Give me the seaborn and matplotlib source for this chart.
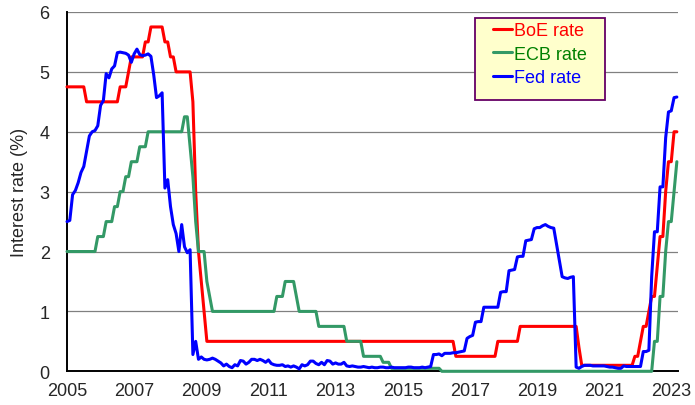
import numpy as np
import pandas as pd
import matplotlib
matplotlib.use("Agg")
import matplotlib.pyplot as plt
from matplotlib.lines import Line2D
from matplotlib.patches import Rectangle
import seaborn as sns

# Monthly values, Jan 2005 - Mar 2023
start_month = "2005-01"
n_months = 219

# BoE and ECB are step series: (level, number of months at that level)
boe_levels = [4.75, 4.5, 4.75, 5.0, 5.25, 5.5, 5.75, 5.5, 5.25, 5.0, 4.5, 3.0, 2.0, 1.5,
              1.0, 0.5, 0.25, 0.5, 0.75, 0.4, 0.1, 0.25, 0.5, 0.75, 1.0, 1.25, 1.75,
              2.25, 3.0, 3.5, 4.0]
boe_runs = [7, 12, 3, 1, 5, 2, 5, 2, 2, 6, 1, 1, 1, 1,
            1, 89, 15, 8, 21, 1, 19, 2, 1, 2, 1, 2, 1,
            2, 1, 2, 2]

ecb_levels = [2.0, 2.25, 2.5, 2.75, 3.0, 3.25, 3.5, 3.75, 4.0, 4.25, 3.75, 3.25, 2.5,
              2.0, 1.5, 1.25, 1.0, 1.25, 1.5, 1.25, 1.0, 0.75, 0.5, 0.25, 0.15, 0.05,
              0.0, 0.5, 1.25, 2.0, 2.5, 3.0, 3.5]
ecb_runs = [11, 3, 3, 2, 2, 2, 3, 3, 13, 2, 1, 1, 1,
            3, 1, 1, 23, 3, 4, 1, 7, 10, 6, 7, 3, 18,
            76, 2, 2, 1, 2, 1, 1]

fed_rate = [
    2.50, 2.52, 2.95, 3.02, 3.15, 3.32, 3.42, 3.68, 3.93, 4.00, 4.02, 4.10,  # 2005
    4.44, 4.52, 4.97, 4.90, 5.05, 5.10, 5.32, 5.33, 5.32, 5.31, 5.28, 5.16,  # 2006
    5.30, 5.38, 5.29, 5.27, 5.28, 5.30, 5.26, 4.95, 4.57, 4.60, 4.65, 3.06,  # 2007
    3.20, 2.75, 2.45, 2.30, 2.00, 2.45, 2.08, 1.98, 2.03, 0.28, 0.50, 0.20,  # 2008
    0.24, 0.20, 0.19, 0.20, 0.22, 0.20, 0.17, 0.14, 0.09, 0.12, 0.08, 0.06,  # 2009
    0.11, 0.09, 0.18, 0.17, 0.12, 0.15, 0.20, 0.20, 0.18, 0.20, 0.18, 0.15,  # 2010
    0.19, 0.13, 0.11, 0.10, 0.10, 0.11, 0.08, 0.09, 0.07, 0.09, 0.07, 0.04,  # 2011
    0.11, 0.09, 0.11, 0.17, 0.17, 0.13, 0.11, 0.15, 0.11, 0.18, 0.17, 0.12,  # 2012
    0.14, 0.12, 0.12, 0.15, 0.09, 0.08, 0.09, 0.08, 0.07, 0.07, 0.08, 0.07,  # 2013
    0.06, 0.07, 0.06, 0.06, 0.07, 0.07, 0.06, 0.06, 0.07, 0.06, 0.06, 0.06,  # 2014
    0.06, 0.06, 0.07, 0.07, 0.06, 0.06, 0.06, 0.07, 0.06, 0.07, 0.08, 0.28,  # 2015
    0.28, 0.29, 0.26, 0.30, 0.30, 0.30, 0.31, 0.31, 0.32, 0.33, 0.34, 0.55,  # 2016
    0.58, 0.60, 0.82, 0.83, 0.83, 1.07, 1.07, 1.07, 1.07, 1.07, 1.07, 1.32,  # 2017
    1.33, 1.33, 1.68, 1.69, 1.70, 1.91, 1.92, 1.92, 2.18, 2.19, 2.20, 2.38,  # 2018
    2.40, 2.40, 2.43, 2.45, 2.42, 2.40, 2.39, 2.12, 1.85, 1.58, 1.56, 1.55,  # 2019
    1.57, 1.58, 0.07, 0.05, 0.08, 0.10, 0.10, 0.10, 0.09, 0.09, 0.09, 0.09,  # 2020
    0.09, 0.08, 0.07, 0.07, 0.06, 0.05, 0.05, 0.09, 0.08, 0.08, 0.08, 0.08,  # 2021
    0.08, 0.08, 0.33, 0.33, 0.35, 1.58, 2.33, 2.33, 3.08, 3.08, 3.90, 4.33,  # 2022
    4.35, 4.57, 4.58,                                                        # 2023
]

series_names = ["BoE rate", "ECB rate", "Fed rate"]
line_colours = ["#FF0000", "#339966", "#0000FF"]
text_colours = ["#FF0000", "#008000", "#0000FF"]


def build_frame():
    months = pd.date_range(start_month, periods=n_months, freq="MS")
    year = months.year + (months.month - 1) / 12
    wide = pd.DataFrame({
        "year": year,
        "BoE rate": np.repeat(boe_levels, boe_runs),
        "ECB rate": np.repeat(ecb_levels, ecb_runs),
        "Fed rate": fed_rate,
    })
    return wide.melt(id_vars="year", var_name="series", value_name="rate")


df = build_frame()

sns.set_style("white")
plt.rcParams["font.family"] = ["Liberation Sans", "DejaVu Sans"]

fig, ax = plt.subplots(figsize=(6.95, 4.06), dpi=100)
fig.subplots_adjust(left=0.0964, right=0.9755, top=0.968, bottom=0.083)

sns.lineplot(
    data=df, x="year", y="rate", hue="series",
    hue_order=series_names, palette=dict(zip(series_names, line_colours)),
    estimator=None, linewidth=2.2, legend=False, ax=ax,
)
for ln in ax.lines:
    ln.set_clip_on(False)
    ln.set_zorder(3)

ax.set_xlim(2005, 2023.2)
ax.set_ylim(0, 6)
ax.set_xticks(range(2005, 2024, 2))
ax.set_xticks(np.arange(2005, 2023.5, 0.5), minor=True)
ax.set_yticks(range(0, 7))
ax.tick_params(axis="x", which="both", direction="out", length=4.5, width=1.1,
               color="black", labelsize=13, pad=3)
ax.tick_params(axis="y", direction="out", length=4.5, width=1.1,
               color="black", labelsize=13, pad=8)

ax.grid(axis="y", color="#808080", linewidth=0.9)
ax.set_axisbelow(True)
for side in ["top", "right"]:
    ax.spines[side].set_visible(False)
for side in ["left", "bottom"]:
    ax.spines[side].set_color("black")
    ax.spines[side].set_linewidth(1.4)

ax.set_xlabel("")
ax.set_ylabel("Interest rate (%)", fontsize=13, labelpad=8)

# legend box (yellow fill, purple border)
ax.add_patch(Rectangle((0.668, 0.755), 0.212, 0.228, transform=ax.transAxes,
                       facecolor="#FFFFCC", edgecolor="#660066", linewidth=1.3,
                       zorder=4))
handles = [Line2D([], [], color=c, linewidth=2.2) for c in line_colours]
leg = ax.legend(handles, series_names, loc="upper left",
                bbox_to_anchor=(0.697, 0.972), frameon=False, fontsize=13,
                borderpad=0, borderaxespad=0, handlelength=1.05,
                handletextpad=0.1, labelspacing=0.36)
leg.set_zorder(5)
for txt, col in zip(leg.get_texts(), text_colours):
    txt.set_color(col)

fig.savefig("out.png", dpi=100)
plt.close(fig)
